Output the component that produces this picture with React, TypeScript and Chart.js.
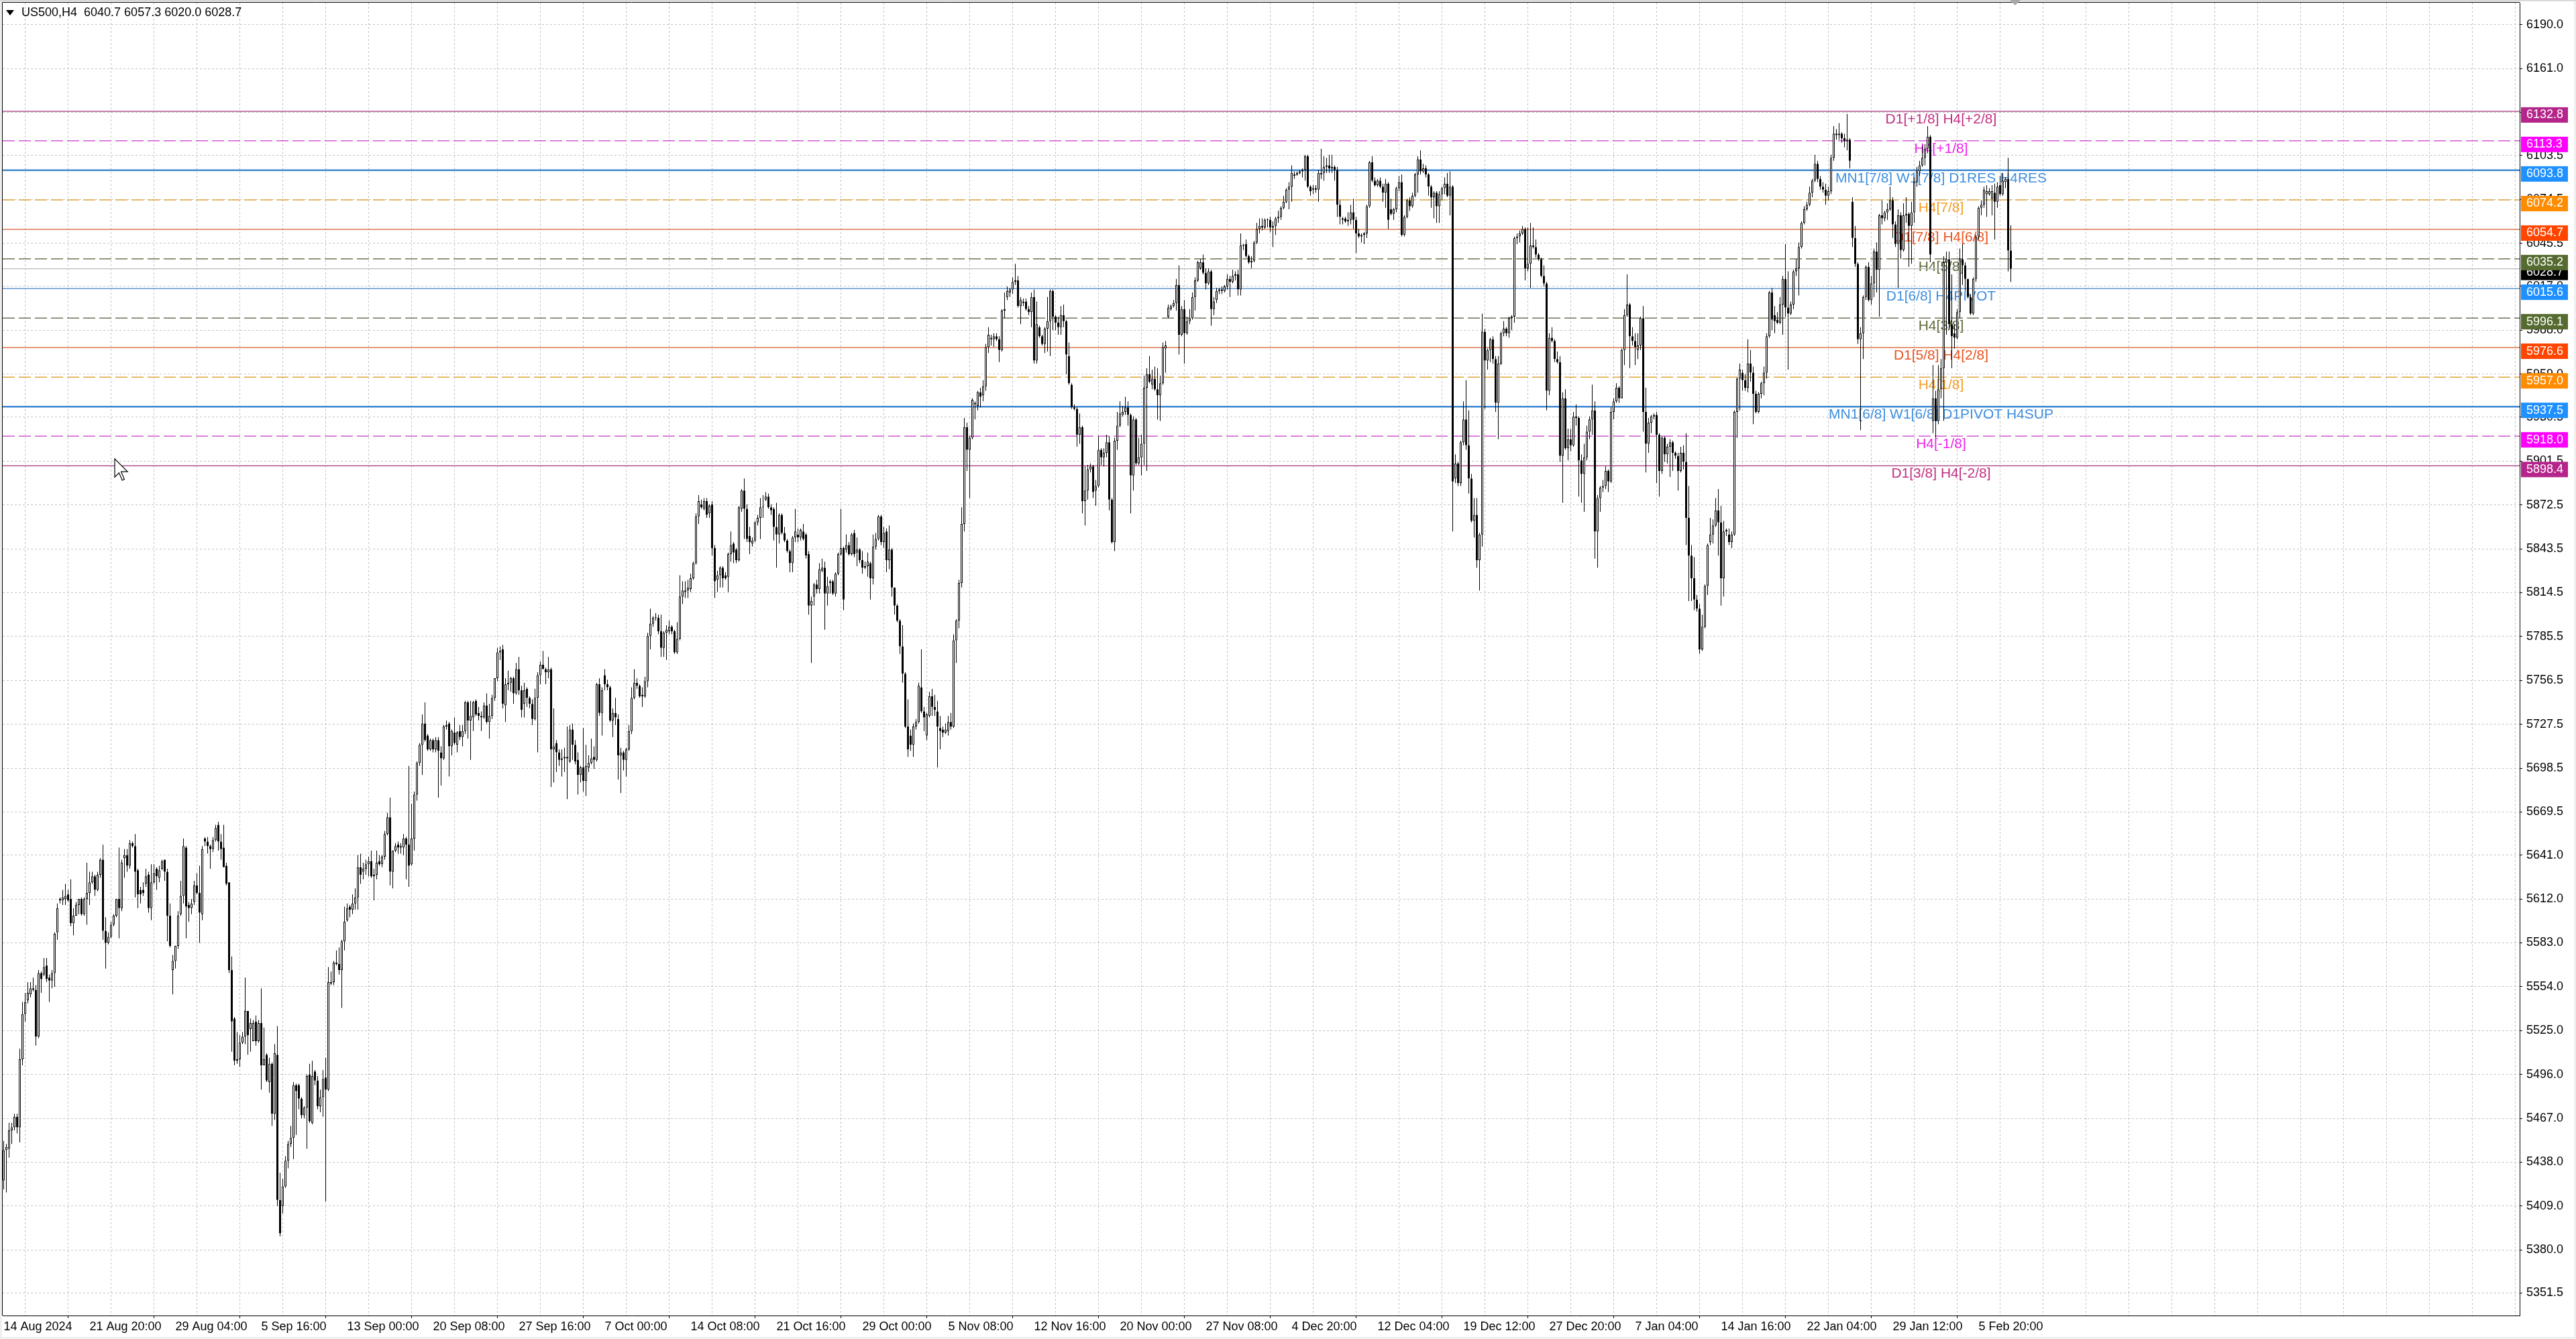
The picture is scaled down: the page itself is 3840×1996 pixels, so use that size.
import React, { useEffect, useRef } from "react";
import { Chart, registerables, Plugin } from "chart.js";

Chart.register(...registerables);

// US500 H4 candles, 14 Aug 2024 12:00 .. 7 Feb 2025 20:00 (one value per bar)
const OPEN = [
  5426,5446,5447,5459,5461,5468,5461,5506,5536,5545,
  5549,5553,5552,5521,5563,5562,5568,5560,5558,5563,
  5590,5611,5611,5612,5615,5612,5596,5601,5608,5612,
  5602,5612,5616,5623,5627,5618,5628,5638,5591,5583,
  5587,5595,5601,5612,5606,5639,5641,5634,5649,5647,
  5631,5618,5618,5622,5628,5606,5623,5632,5626,5632,
  5638,5630,5601,5565,5571,5581,5602,5614,5646,5608,
  5606,5610,5621,5616,5602,5652,5650,5647,5645,5651,
  5661,5650,5646,5634,5623,5565,5533,5505,5506,5517,
  5521,5538,5526,5518,5531,5518,5530,5502,5509,5491,
  5503,5470,5509,5413,5409,5422,5439,5450,5454,5489,
  5489,5480,5469,5474,5496,5464,5498,5492,5475,5481,
  5494,5486,5556,5557,5569,5569,5565,5584,5598,5607,
  5605,5609,5613,5633,5630,5632,5635,5637,5628,5628,
  5637,5635,5640,5655,5666,5630,5644,5648,5646,5646,
  5652,5648,5635,5652,5681,5702,5714,5728,5720,5711,
  5717,5711,5717,5709,5705,5726,5728,5713,5722,5714,
  5723,5719,5723,5742,5730,5732,5743,5735,5733,5732,
  5740,5729,5733,5745,5758,5775,5777,5740,5754,5755,
  5758,5748,5764,5750,5741,5751,5745,5741,5731,5745,
  5760,5767,5764,5762,5764,5711,5715,5709,5704,5705,
  5706,5703,5724,5714,5704,5694,5699,5690,5699,5702,
  5706,5704,5754,5735,5760,5754,5752,5730,5735,5731,
  5707,5709,5704,5711,5723,5745,5755,5753,5747,5746,
  5756,5786,5794,5798,5798,5789,5778,5788,5789,5792,
  5789,5775,5784,5812,5815,5816,5817,5824,5834,5865,
  5873,5870,5875,5867,5873,5844,5823,5826,5831,5826,
  5825,5840,5847,5843,5836,5870,5882,5870,5852,5847,
  5849,5861,5864,5871,5876,5878,5871,5870,5858,5853,
  5866,5854,5849,5842,5834,5851,5853,5851,5855,5853,
  5840,5806,5812,5820,5817,5829,5831,5814,5821,5822,
  5814,5827,5840,5844,5843,5846,5840,5854,5841,5843,
  5836,5832,5832,5834,5824,5845,5850,5865,5848,5855,
  5836,5843,5818,5806,5796,5779,5761,5726,5720,5714,
  5726,5729,5752,5736,5720,5733,5746,5739,5736,5725,
  5724,5722,5723,5729,5726,5783,5796,5821,5860,5924,
  5909,5917,5939,5938,5947,5945,5951,5977,5982,5982,
  5984,5982,5975,6001,6010,6013,6015,6020,6021,6004,
  6006,6007,6002,6000,6010,5968,5990,5984,5979,5989,
  5994,6014,5997,5993,5990,5998,5994,5971,5952,5937,
  5936,5919,5924,5875,5882,5896,5898,5882,5885,5909,
  5904,5907,5914,5876,5848,5915,5925,5932,5934,5937,
  5932,5892,5929,5900,5904,5913,5950,5959,5952,5956,
  5949,5945,5953,5976,5997,6002,6004,6006,6018,5985,
  6002,5986,5994,5996,6010,6021,6029,6033,6026,6019,
  6027,6002,6008,6014,6015,6014,6017,6022,6020,6024,
  6025,6015,6044,6045,6037,6033,6034,6046,6055,6057,
  6056,6061,6061,6056,6057,6062,6063,6069,6073,6081,
  6083,6090,6091,6092,6093,6094,6103,6083,6081,6082,
  6081,6091,6092,6096,6097,6095,6096,6094,6071,6061,
  6062,6060,6061,6066,6061,6052,6050,6051,6052,6070,
  6099,6087,6084,6087,6083,6079,6085,6068,6065,6068,
  6082,6086,6051,6063,6074,6070,6077,6091,6101,6093,
  6095,6091,6083,6076,6079,6070,6078,6082,6085,6077,
  6083,5890,5900,5887,5914,5929,5912,5890,5862,5866,
  5836,5853,5987,5968,5975,5982,5969,5940,5966,5986,
  5989,5986,5996,5997,6049,6050,6052,6055,6029,6032,
  6044,6043,6038,6035,6024,6019,5948,5983,5981,5969,
  5967,5905,5943,5910,5916,5912,5931,5930,5902,5893,
  5904,5921,5929,5935,5855,5877,5884,5885,5895,5888,
  5934,5941,5950,5943,5975,5998,6005,5984,5981,5975,
  5978,5996,5934,5913,5927,5931,5932,5919,5895,5917,
  5906,5911,5914,5907,5905,5895,5907,5901,5864,5839,
  5824,5810,5804,5777,5792,5819,5848,5853,5859,5869,
  5861,5824,5855,5853,5848,5853,5934,5956,5960,5955,
  5950,5966,5960,5946,5934,5946,5953,5960,5984,6013,
  5998,5995,5993,6005,6022,6003,5999,6005,6027,6029,
  6043,6059,6068,6071,6079,6087,6098,6088,6083,6081,
  6077,6080,6102,6118,6117,6118,6115,6113,6114,6073,
  6049,6032,5982,5986,6010,6030,6008,6019,6040,6028,
  6064,6062,6066,6068,6074,6058,6045,6064,6041,6064,
  6065,6057,6066,6086,6093,6097,6102,6108,6116,5928,
  5943,5928,5949,5963,6033,6035,5992,5986,5983,6000,
  6035,6031,6022,6010,5999,6022,6050,6069,6071,6078,
  6078,6075,6079,6073,6084,6078,6086,6088,6040.7,
];

const HIGH = [
  5452,5450,5464,5464,5470,5470,5513,5544,5550,5557,
  5557,5560,5555,5565,5564,5573,5573,5562,5565,5590,
  5609,5613,5618,5622,5618,5625,5606,5610,5612,5613,
  5613,5636,5630,5630,5628,5630,5639,5648,5600,5590,
  5597,5602,5612,5646,5638,5645,5645,5651,5650,5655,
  5632,5620,5623,5632,5630,5635,5635,5633,5634,5638,
  5638,5632,5609,5575,5581,5604,5624,5652,5647,5610,
  5612,5624,5629,5634,5647,5653,5653,5648,5653,5661,
  5663,5655,5661,5636,5623,5574,5534,5524,5522,5524,
  5560,5538,5533,5532,5535,5532,5553,5527,5510,5507,
  5504,5516,5528,5431,5427,5442,5452,5462,5491,5490,
  5490,5481,5475,5496,5503,5505,5499,5495,5486,5499,
  5507,5567,5564,5571,5578,5580,5585,5607,5609,5608,
  5615,5619,5641,5642,5636,5638,5640,5644,5632,5644,
  5641,5641,5657,5669,5679,5644,5649,5650,5649,5655,
  5653,5700,5675,5683,5703,5715,5734,5742,5721,5718,
  5718,5719,5719,5713,5727,5730,5729,5724,5732,5723,
  5727,5727,5743,5743,5743,5743,5744,5739,5736,5742,
  5748,5741,5747,5758,5778,5779,5780,5758,5763,5759,
  5759,5768,5772,5753,5755,5752,5746,5744,5751,5762,
  5769,5776,5765,5772,5765,5738,5717,5711,5711,5712,
  5726,5727,5728,5717,5709,5700,5725,5714,5707,5718,
  5713,5755,5758,5752,5764,5757,5753,5738,5745,5734,
  5712,5710,5712,5727,5752,5764,5758,5754,5752,5759,
  5788,5804,5799,5801,5800,5800,5789,5793,5796,5793,
  5790,5795,5826,5822,5822,5823,5827,5835,5867,5879,
  5876,5877,5877,5873,5875,5846,5829,5832,5832,5828,
  5841,5855,5848,5844,5872,5883,5890,5873,5858,5851,
  5862,5866,5877,5879,5881,5880,5873,5871,5874,5867,
  5867,5858,5850,5843,5852,5870,5857,5857,5860,5854,
  5842,5812,5821,5823,5834,5837,5835,5825,5823,5823,
  5828,5841,5870,5845,5853,5848,5854,5856,5851,5844,
  5842,5835,5841,5835,5853,5854,5866,5866,5858,5857,
  5859,5844,5818,5807,5797,5793,5762,5744,5724,5728,
  5731,5755,5777,5739,5735,5749,5751,5747,5743,5733,
  5726,5728,5733,5735,5787,5797,5823,5871,5930,5927,
  5918,5943,5941,5948,5950,5955,5979,5990,5985,5986,
  5986,5984,6002,6013,6017,6016,6023,6032,6024,6010,
  6009,6009,6004,6013,6015,6007,5991,5985,5990,6010,
  6015,6015,5998,5997,6004,6005,5995,5980,5953,5939,
  5937,5933,5925,5898,5899,5900,5899,5889,5918,5910,
  5910,5919,5918,5877,5917,5934,5941,5938,5944,5941,
  5933,5931,5930,5917,5919,5958,5963,5971,5962,5964,
  5963,5958,5980,5981,6005,6005,6008,6022,6031,6004,
  6008,5997,6002,6013,6023,6034,6035,6038,6029,6029,
  6028,6010,6016,6016,6017,6018,6025,6024,6028,6027,
  6028,6052,6045,6048,6038,6037,6047,6059,6062,6062,
  6062,6062,6063,6060,6063,6067,6070,6077,6082,6086,
  6097,6093,6093,6094,6095,6104,6104,6084,6084,6084,
  6094,6108,6103,6102,6104,6104,6097,6096,6074,6063,
  6063,6066,6071,6075,6063,6055,6052,6053,6071,6100,
  6103,6089,6088,6089,6085,6088,6086,6075,6069,6083,
  6090,6091,6064,6075,6076,6079,6092,6103,6107,6098,
  6097,6092,6084,6080,6080,6080,6083,6089,6092,6093,
  6084,5906,5901,5915,5941,5955,5935,5893,5877,5877,
  5854,5999,5989,5976,5983,5984,5971,5971,5987,5994,
  5990,5997,5998,6050,6052,6054,6057,6056,6056,6059,
  6056,6048,6039,6036,6031,6020,5986,5990,5982,5974,
  5971,5947,5949,5923,5923,5934,5939,5931,5906,5913,
  5925,5931,5952,5941,5879,5885,5889,5898,5896,5937,
  5943,5953,5951,5976,6002,6025,6006,5990,5986,5986,
  5997,6004,5950,5930,5932,5933,5934,5920,5918,5918,
  5913,5916,5915,5908,5907,5911,5912,5920,5885,5846,
  5838,5813,5807,5800,5820,5847,5864,5863,5877,5883,
  5872,5862,5857,5857,5855,5935,5957,5966,5962,5959,
  5982,5975,5964,5948,5947,5954,5964,5986,6014,6016,
  6004,6000,6010,6024,6045,6027,6007,6028,6035,6046,
  6060,6070,6073,6083,6088,6104,6100,6090,6086,6085,
  6083,6104,6123,6121,6125,6119,6118,6131,6115,6076,
  6057,6033,5990,6011,6031,6033,6024,6042,6046,6065,
  6074,6067,6072,6083,6076,6060,6068,6066,6072,6076,
  6066,6073,6089,6096,6100,6110,6111,6123,6117,5965,
  5948,5965,5969,6037,6040,6040,6025,5992,6002,6042,
  6045,6033,6022,6012,6023,6051,6070,6074,6083,6084,
  6082,6084,6085,6086,6090,6092,6089,6102,6057.3,
];

const LOW = [
  5420,5418,5441,5450,5459,5457,5451,5502,5531,5543,
  5547,5551,5515,5520,5550,5561,5557,5544,5553,5554,
  5585,5609,5608,5608,5610,5594,5588,5601,5602,5601,
  5601,5595,5608,5622,5614,5617,5626,5585,5566,5582,
  5586,5594,5600,5586,5604,5626,5630,5632,5646,5613,
  5606,5609,5614,5620,5603,5598,5622,5618,5623,5631,
  5624,5584,5580,5549,5566,5579,5601,5609,5586,5597,
  5602,5608,5615,5583,5598,5647,5642,5632,5643,5650,
  5644,5638,5633,5621,5563,5511,5502,5503,5501,5516,
  5516,5509,5511,5518,5515,5517,5486,5502,5491,5484,
  5462,5466,5409,5389,5404,5421,5434,5448,5440,5456,
  5473,5467,5467,5447,5464,5463,5489,5473,5471,5468,
  5412,5485,5555,5555,5568,5562,5540,5578,5597,5600,
  5602,5605,5605,5622,5625,5628,5627,5626,5611,5625,
  5634,5633,5638,5654,5621,5619,5643,5642,5642,5641,
  5625,5620,5634,5644,5677,5700,5694,5716,5710,5710,
  5709,5709,5679,5687,5704,5724,5693,5707,5714,5709,
  5717,5713,5721,5718,5704,5723,5733,5730,5723,5731,
  5728,5718,5731,5743,5756,5770,5738,5729,5750,5749,
  5741,5747,5747,5732,5732,5739,5738,5727,5730,5709,
  5754,5764,5754,5758,5686,5689,5696,5700,5693,5696,
  5678,5702,5704,5701,5681,5689,5683,5680,5696,5701,
  5698,5703,5733,5720,5750,5750,5729,5719,5727,5691,
  5682,5697,5693,5710,5721,5744,5751,5745,5739,5745,
  5752,5777,5792,5796,5787,5772,5772,5770,5787,5787,
  5774,5774,5783,5807,5811,5811,5815,5823,5833,5860,
  5870,5869,5864,5864,5839,5811,5815,5818,5818,5823,
  5815,5835,5834,5834,5835,5868,5850,5848,5840,5845,
  5848,5859,5850,5864,5875,5870,5866,5849,5831,5847,
  5853,5848,5841,5828,5828,5848,5848,5849,5849,5837,
  5800,5768,5806,5814,5814,5828,5790,5806,5814,5813,
  5812,5826,5839,5803,5841,5839,5839,5838,5832,5834,
  5827,5830,5825,5810,5820,5843,5849,5846,5844,5828,
  5830,5812,5800,5795,5774,5755,5725,5706,5710,5706,
  5724,5728,5735,5723,5717,5732,5733,5733,5699,5711,
  5719,5721,5720,5724,5725,5768,5791,5818,5855,5895,
  5877,5916,5929,5935,5937,5941,5948,5973,5978,5977,
  5981,5967,5974,5996,6008,6010,6012,6018,6003,5992,
  6004,6001,5998,5990,5966,5966,5983,5978,5973,5974,
  5971,5988,5988,5985,5985,5990,5959,5952,5936,5935,
  5911,5913,5867,5859,5876,5894,5877,5872,5884,5899,
  5898,5904,5869,5847,5842,5909,5924,5931,5932,5925,
  5867,5882,5899,5899,5892,5899,5895,5953,5949,5948,
  5929,5928,5952,5960,5996,6001,6003,6001,5972,5984,
  5966,5985,5992,5995,6001,6020,6028,6025,6015,6018,
  5991,5998,6006,6012,6012,6013,6015,6010,6019,6021,
  6011,6011,6041,6036,6032,6029,6033,6045,6052,6054,
  6055,6056,6053,6043,6051,6059,6061,6068,6072,6068,
  6073,6088,6090,6091,6089,6087,6082,6077,6078,6079,
  6073,6088,6087,6092,6092,6092,6087,6063,6058,6058,
  6059,6057,6058,6055,6039,6049,6046,6045,6049,6069,
  6086,6083,6083,6082,6073,6069,6055,6064,6061,6066,
  6080,6050,6050,6062,6067,6069,6076,6079,6091,6092,
  6089,6077,6069,6062,6059,6059,6074,6078,6076,6064,
  5855,5887,5885,5885,5912,5909,5880,5861,5851,5831,
  5816,5845,5936,5962,5967,5966,5934,5916,5965,5984,
  5984,5983,5988,5993,6045,6046,6051,6021,6027,6016,
  6042,6036,6034,6023,6017,5935,5945,5980,5967,5966,
  5901,5874,5909,5902,5908,5911,5925,5878,5874,5868,
  5902,5916,5919,5837,5831,5868,5881,5883,5881,5887,
  5929,5940,5940,5943,5965,5997,5963,5978,5965,5969,
  5975,5921,5894,5907,5920,5929,5887,5878,5893,5901,
  5900,5891,5895,5903,5882,5894,5896,5846,5809,5809,
  5803,5802,5774,5776,5791,5813,5846,5847,5858,5839,
  5806,5812,5852,5846,5844,5852,5917,5935,5948,5948,
  5947,5954,5926,5933,5933,5943,5945,5956,5983,5988,
  5986,5992,5992,5985,5997,5962,5998,6002,6024,6011,
  6042,6058,6067,6070,6076,6086,6086,6081,6079,6071,
  6074,6078,6100,6114,6114,6112,6109,6107,6095,6043,
  6030,5979,5922,5969,6008,6007,6005,6010,6013,5997,
  6058,6060,6061,6067,6049,6043,6016,6035,6040,6059,
  6030,6032,6059,6083,6090,6096,6097,6105,6033,5920,
  5917,5926,5943,5928,5985,5988,5963,5976,5982,5996,
  6018,6014,6009,5998,5998,6020,6048,6064,6069,6063,
  6077,6064,6048,6069,6077,6077,6082,6027,6020.0,
];

const CLOSE = [
  5446,5448,5459,5461,5468,5461,5506,5536,5544,5550,
  5553,5552,5521,5563,5559,5567,5559,5558,5563,5589,
  5606,5612,5613,5614,5611,5596,5601,5608,5612,5602,
  5612,5616,5623,5627,5618,5628,5638,5591,5583,5587,
  5595,5601,5612,5606,5636,5641,5634,5649,5647,5630,
  5615,5615,5616,5627,5606,5623,5629,5627,5631,5637,
  5630,5601,5581,5571,5581,5601,5614,5647,5607,5606,
  5609,5621,5616,5603,5645,5650,5647,5645,5651,5659,
  5650,5645,5633,5622,5565,5531,5505,5506,5517,5521,
  5538,5522,5530,5530,5518,5530,5502,5506,5492,5503,
  5470,5510,5413,5391,5422,5439,5450,5454,5489,5485,
  5480,5469,5474,5495,5465,5495,5492,5475,5481,5493,
  5486,5557,5557,5570,5570,5565,5584,5597,5606,5605,
  5609,5613,5633,5628,5632,5635,5637,5627,5627,5636,
  5635,5640,5655,5666,5630,5644,5647,5646,5647,5652,
  5648,5634,5652,5681,5702,5714,5728,5717,5711,5717,
  5711,5717,5710,5705,5726,5727,5713,5723,5715,5722,
  5719,5723,5742,5730,5733,5742,5734,5733,5732,5740,
  5729,5733,5745,5758,5775,5776,5741,5754,5755,5758,
  5748,5764,5750,5737,5750,5745,5741,5731,5745,5760,
  5767,5764,5762,5764,5711,5713,5709,5704,5705,5706,
  5705,5724,5714,5703,5694,5699,5690,5700,5702,5705,
  5704,5754,5735,5750,5754,5752,5730,5735,5732,5707,
  5709,5704,5711,5723,5745,5755,5753,5746,5746,5756,
  5786,5794,5798,5798,5789,5778,5788,5790,5792,5789,
  5775,5784,5812,5816,5816,5818,5824,5834,5865,5875,
  5871,5875,5866,5872,5844,5822,5826,5831,5824,5824,
  5840,5846,5841,5836,5871,5882,5870,5850,5848,5849,
  5861,5864,5871,5871,5878,5871,5869,5858,5853,5866,
  5854,5849,5842,5834,5851,5855,5851,5856,5850,5839,
  5806,5809,5820,5817,5830,5831,5814,5819,5822,5814,
  5827,5840,5844,5810,5846,5840,5853,5840,5843,5836,
  5831,5831,5835,5824,5845,5850,5865,5848,5854,5836,
  5843,5818,5806,5796,5779,5761,5726,5711,5714,5726,
  5729,5753,5736,5732,5734,5746,5739,5737,5726,5723,
  5722,5724,5729,5726,5783,5796,5821,5860,5924,5909,
  5917,5942,5940,5947,5944,5951,5977,5985,5983,5984,
  5982,5975,6001,6002,6014,6015,6020,6021,6004,6008,
  6007,6002,6000,6010,5968,5992,5984,5979,5989,5994,
  6014,5997,5993,5990,5998,5994,5972,5953,5937,5936,
  5919,5924,5875,5882,5896,5898,5881,5885,5909,5904,
  5907,5914,5876,5848,5915,5925,5933,5934,5937,5932,
  5892,5929,5900,5904,5913,5950,5959,5954,5956,5949,
  5945,5953,5977,5978,6003,6004,6006,6018,5985,6002,
  5986,5994,5996,6010,6021,6033,6033,6026,6019,6027,
  6002,6007,6014,6015,6014,6017,6022,6020,6024,6025,
  6015,6044,6044,6037,6033,6034,6046,6055,6057,6056,
  6061,6061,6056,6057,6062,6063,6069,6073,6081,6083,
  6092,6091,6092,6093,6094,6103,6083,6080,6082,6081,
  6092,6092,6096,6097,6095,6096,6094,6071,6063,6062,
  6060,6061,6066,6061,6052,6050,6051,6052,6070,6099,
  6087,6084,6087,6083,6079,6085,6061,6065,6068,6082,
  6086,6051,6063,6074,6070,6077,6091,6101,6093,6095,
  6091,6083,6076,6079,6070,6078,6082,6085,6077,6083,
  5888,5900,5887,5914,5929,5912,5890,5862,5866,5836,
  5853,5987,5968,5975,5982,5969,5940,5966,5986,5989,
  5986,5996,5997,6049,6050,6052,6055,6029,6032,6044,
  6043,6038,6035,6024,6019,5948,5983,5981,5969,5967,
  5905,5943,5910,5916,5912,5931,5930,5902,5893,5904,
  5921,5929,5935,5855,5877,5884,5885,5895,5888,5934,
  5941,5950,5943,5975,5998,6005,5984,5981,5977,5978,
  5996,5934,5913,5927,5931,5932,5919,5895,5917,5906,
  5911,5914,5907,5905,5895,5907,5901,5864,5839,5824,
  5810,5804,5777,5792,5819,5846,5853,5859,5869,5861,
  5824,5855,5856,5848,5853,5934,5956,5962,5955,5950,
  5966,5960,5946,5934,5946,5953,5960,5984,6013,5995,
  5994,5993,6005,6022,6003,5999,6005,6027,6029,6043,
  6059,6068,6071,6079,6087,6098,6088,6083,6081,6077,
  6080,6102,6118,6117,6118,6115,6113,6114,6100,6049,
  6032,5982,5986,6010,6030,6008,6019,6040,6028,6064,
  6062,6066,6068,6074,6058,6045,6064,6041,6064,6065,
  6057,6066,6086,6093,6097,6102,6108,6116,6038,5943,
  5928,5949,5963,6033,6035,5992,5984,5983,6000,6035,
  6031,6022,6010,5999,6022,6050,6069,6071,6081,6080,
  6080,6080,6073,6083,6078,6087,6088,6040.7,6028.7,
];

// time scale labels, one every 32 bars
const TIME_LABELS = [
  "14 Aug 2024", "21 Aug 20:00", "29 Aug 04:00", "5 Sep 16:00", "13 Sep 00:00", "20 Sep 08:00",
  "27 Sep 16:00", "7 Oct 00:00", "14 Oct 08:00", "21 Oct 16:00", "29 Oct 00:00", "5 Nov 08:00",
  "12 Nov 16:00", "20 Nov 00:00", "27 Nov 08:00", "4 Dec 20:00", "12 Dec 04:00", "19 Dec 12:00",
  "27 Dec 20:00", "7 Jan 04:00", "14 Jan 16:00", "22 Jan 04:00", "29 Jan 12:00", "5 Feb 20:00",
];

// price scale labels
const PRICE_TICKS = [
  6190.0, 6161.0, 6132.0, 6103.5, 6074.5, 6045.5, 6017.0, 5988.0, 5959.0, 5930.5,
  5901.5, 5872.5, 5843.5, 5814.5, 5785.5, 5756.5, 5727.5, 5698.5, 5669.5, 5641.0,
  5612.0, 5583.0, 5554.0, 5525.0, 5496.0, 5467.0, 5438.0, 5409.0, 5380.0, 5351.5,
];

// Murrey math levels
const LEVEL_PRICES = [6132.8, 6113.3, 6093.8, 6074.2, 6054.7, 6035.2, 6015.6, 5996.1, 5976.6, 5957.0, 5937.5, 5918.0, 5898.4];
const LEVEL_NAMES = [
  "D1[+1/8] H4[+2/8]", "H4[+1/8]", "MN1[7/8] W1[7/8] D1RES H4RES", "H4[7/8]", "D1[7/8] H4[6/8]",
  "H4[5/8]", "D1[6/8] H4PIVOT", "H4[3/8]", "D1[5/8] H4[2/8]", "H4[1/8]",
  "MN1[6/8] W1[6/8] D1PIVOT H4SUP", "H4[-1/8]", "D1[3/8] H4[-2/8]",
];
const LEVEL_KINDS = ["violet", "magenta", "mn", "orange", "orangered", "olive", "pivot", "olive", "orangered", "orange", "mn", "magenta", "violet"];

const SYMBOL = "US500,H4";

// ---- look ----
const W = 3840;
const H = 1996;
const Y_AXIS_W = 84;
const X_AXIS_H = 35;
const X_MIN = -0.375;
const X_MAX = 937.625;
const Y_MIN = 5336.62;
const Y_MAX = 6204.59;
const GRID_STEP = 16;
const LABEL_STEP = 32;
const CAPTION_BAR = 722;
const FONT = "'Liberation Sans', Arial, sans-serif";
const DASH = [18, 6];

const KIND_STYLE: Record<string, { tag: string; line: string; text: string; width: number; dash: number[] }> = {
  violet: { tag: "#b5248a", line: "#a3327c", text: "#c02f82", width: 1.4, dash: [] },
  magenta: { tag: "#ff00ff", line: "#c637c6", text: "#ec22ec", width: 1.4, dash: DASH },
  mn: { tag: "#1e90ff", line: "#3f88d2", text: "#3d8fe0", width: 2.4, dash: [] },
  pivot: { tag: "#1e90ff", line: "#4684c8", text: "#3d8fe0", width: 1.2, dash: [] },
  orange: { tag: "#ff8c00", line: "#e0a63c", text: "#f59d25", width: 1.5, dash: DASH },
  orangered: { tag: "#ff4500", line: "#d65e2c", text: "#ea5320", width: 1.2, dash: [] },
  olive: { tag: "#556b2f", line: "#4f5a2f", text: "#5a6b37", width: 1.4, dash: DASH },
};

const gridTicks: number[] = [];
for (let v = 0; v <= X_MAX; v += GRID_STEP) gridTicks.push(v);

const isLabelTick = (v: number) => v % LABEL_STEP === 0 && v / LABEL_STEP < TIME_LABELS.length;

const decorPlugin: Plugin<"bar"> = {
  id: "mtDecor",
  beforeDraw(chart) {
    const { ctx } = chart;
    ctx.save();
    ctx.fillStyle = "#ffffff";
    ctx.fillRect(0, 0, W, H);
    ctx.fillStyle = "#d8d8d8";
    ctx.fillRect(0, 0, W, 2);
    ctx.fillStyle = "#efefef";
    ctx.fillRect(0, 2, 3, H);
    ctx.fillRect(0, H - 3, W, 3);
    ctx.fillRect(W - 3, 2, 3, H);
    ctx.restore();
  },
  beforeDatasetsDraw(chart) {
    const { ctx } = chart;
    const x = chart.scales.x;
    const y = chart.scales.y;
    const cx = x.getPixelForValue(CAPTION_BAR);
    ctx.save();
    ctx.font = `21px ${FONT}`;
    ctx.textAlign = "center";
    ctx.textBaseline = "middle";
    LEVEL_PRICES.forEach((p, i) => {
      ctx.fillStyle = KIND_STYLE[LEVEL_KINDS[i]].text;
      ctx.fillText(LEVEL_NAMES[i], cx, y.getPixelForValue(p) + 12);
    });
    ctx.restore();
  },
  afterDraw(chart) {
    const { ctx, chartArea } = chart;
    const y = chart.scales.y;
    ctx.save();

    // price tags on the right scale
    ctx.font = `18px ${FONT}`;
    ctx.textAlign = "left";
    ctx.textBaseline = "middle";
    const tag = (price: number, bg: string) => {
      const py = y.getPixelForValue(price);
      ctx.fillStyle = bg;
      ctx.fillRect(chartArea.right + 2, py - 6, 70, 23);
      ctx.fillStyle = "#ffffff";
      ctx.fillText(price.toFixed(1), chartArea.right + 10, py + 5.5);
    };
    tag(CLOSE[CLOSE.length - 1], "#000000");
    LEVEL_PRICES.forEach((p, i) => tag(p, KIND_STYLE[LEVEL_KINDS[i]].tag));

    // chart frame (left / top)
    ctx.strokeStyle = "#000000";
    ctx.lineWidth = 1;
    ctx.beginPath();
    ctx.moveTo(chartArea.left - 0.5, chartArea.bottom);
    ctx.lineTo(chartArea.left - 0.5, chartArea.top - 0.5);
    ctx.lineTo(chartArea.right, chartArea.top - 0.5);
    ctx.stroke();

    // chart shift marker
    ctx.fillStyle = "#a8a8a8";
    ctx.beginPath();
    ctx.moveTo(2996, 0);
    ctx.lineTo(3012, 0);
    ctx.lineTo(3004, 8);
    ctx.closePath();
    ctx.fill();

    // title with last bar OHLC
    const n = CLOSE.length - 1;
    ctx.fillStyle = "#000000";
    ctx.beginPath();
    ctx.moveTo(9, 15);
    ctx.lineTo(21, 15);
    ctx.lineTo(15, 23);
    ctx.closePath();
    ctx.fill();
    ctx.font = `18px ${FONT}`;
    ctx.textBaseline = "middle";
    ctx.fillText(
      `${SYMBOL}  ${OPEN[n].toFixed(1)} ${HIGH[n].toFixed(1)} ${LOW[n].toFixed(1)} ${CLOSE[n].toFixed(1)}`,
      32,
      19.5
    );

    // mouse pointer
    const s = 1.6;
    const px = 171;
    const py = 684;
    const pts = [[0, 0], [0, 17], [4, 13], [7, 20], [9, 19], [6, 12], [12, 12]];
    ctx.beginPath();
    pts.forEach(([a, b], i) => (i ? ctx.lineTo(px + a * s, py + b * s) : ctx.moveTo(px + a * s, py + b * s)));
    ctx.closePath();
    ctx.fillStyle = "#ffffff";
    ctx.fill();
    ctx.strokeStyle = "#000000";
    ctx.lineWidth = 1.2;
    ctx.stroke();

    ctx.restore();
  },
};

const App: React.FC = () => {
  const canvasRef = useRef<HTMLCanvasElement | null>(null);

  useEffect(() => {
    document.body.style.margin = "0";
    document.body.style.overflow = "hidden";
    const canvas = canvasRef.current;
    if (!canvas) return;

    Chart.defaults.font.family = FONT;
    Chart.defaults.color = "#000000";

    const bodies = OPEN.map((o, i) => ({ x: i, y: [o, CLOSE[i]] }));
    const wicks = LOW.map((l, i) => ({ x: i, y: [l, HIGH[i]] }));
    const bodyColors = OPEN.map((o, i) => (CLOSE[i] >= o ? "#ffffff" : "#000000"));

    const levelSets = LEVEL_PRICES.map((p, i) => {
      const st = KIND_STYLE[LEVEL_KINDS[i]];
      return {
        type: "line" as const,
        data: [{ x: X_MIN, y: p }, { x: X_MAX, y: p }],
        borderColor: st.line,
        borderWidth: st.width,
        borderDash: st.dash,
        pointRadius: 0,
        order: 3,
      };
    });
    const bidLine = {
      type: "line" as const,
      data: [{ x: X_MIN, y: CLOSE[CLOSE.length - 1] }, { x: X_MAX, y: CLOSE[CLOSE.length - 1] }],
      borderColor: "#b8b8b8",
      borderWidth: 1.2,
      pointRadius: 0,
      order: 4,
    };

    const chart = new Chart(canvas, {
      type: "bar",
      data: {
        datasets: [
          {
            type: "bar",
            data: bodies as any,
            backgroundColor: bodyColors,
            borderColor: "#000000",
            borderWidth: 1,
            borderSkipped: false,
            barThickness: 3,
            maxBarThickness: 3,
            minBarLength: 1,
            grouped: false,
            inflateAmount: 0,
            order: 1,
          },
          {
            type: "bar",
            data: wicks as any,
            backgroundColor: "#000000",
            borderWidth: 0,
            barThickness: 1,
            maxBarThickness: 1,
            grouped: false,
            inflateAmount: 0,
            order: 2,
          },
          ...(levelSets as any[]),
          bidLine as any,
        ],
      },
      options: {
        animation: false,
        responsive: false,
        devicePixelRatio: 1,
        events: [],
        layout: { padding: { left: 4, top: 4, right: 0, bottom: 0 }, autoPadding: false },
        plugins: { legend: { display: false }, tooltip: { enabled: false } },
        scales: {
          x: {
            type: "linear",
            position: "bottom",
            min: X_MIN,
            max: X_MAX,
            offset: false,
            afterBuildTicks: (scale: any) => {
              scale.ticks = gridTicks.map((v) => ({ value: v }));
            },
            afterFit: (scale: any) => {
              scale.height = X_AXIS_H;
              scale.paddingLeft = 0;
              scale.paddingRight = 0;
            },
            grid: {
              color: (c: any) => (c.tick && c.tick.value === 0 ? "rgba(0,0,0,0)" : "#c3c3c3"),
              lineWidth: 1,
              tickLength: 4,
              tickColor: (c: any) => (c.tick && isLabelTick(c.tick.value) ? "#000000" : "rgba(0,0,0,0)"),
              tickBorderDash: [],
            },
            border: { display: true, color: "#000000", width: 1, dash: [3, 3] },
            ticks: {
              autoSkip: false,
              maxRotation: 0,
              minRotation: 0,
              align: "start",
              padding: 2,
              font: { size: 18, family: FONT },
              color: "#000000",
              callback: (v: any) => {
                const n = Number(v);
                return isLabelTick(n) ? TIME_LABELS[n / LABEL_STEP] : "";
              },
            },
          },
          y: {
            type: "linear",
            position: "right",
            min: Y_MIN,
            max: Y_MAX,
            afterBuildTicks: (scale: any) => {
              scale.ticks = PRICE_TICKS.map((v) => ({ value: v }));
            },
            afterFit: (scale: any) => {
              scale.width = Y_AXIS_W;
              scale.paddingTop = 0;
              scale.paddingBottom = 0;
            },
            grid: {
              color: "#c3c3c3",
              lineWidth: 1,
              tickLength: 4,
              tickColor: "#000000",
              tickBorderDash: [],
            },
            border: { display: true, color: "#000000", width: 1, dash: [3, 3] },
            ticks: {
              autoSkip: false,
              padding: 6,
              font: { size: 18, family: FONT },
              color: "#000000",
              callback: (v: any) => Number(v).toFixed(1),
            },
          },
        },
      } as any,
      plugins: [decorPlugin],
    });

    return () => {
      chart.destroy();
    };
  }, []);

  return (
    <div style={{ width: W, height: H, overflow: "hidden" }}>
      <canvas ref={canvasRef} width={W} height={H} style={{ display: "block", width: W, height: H }} />
    </div>
  );
};

export default App;
